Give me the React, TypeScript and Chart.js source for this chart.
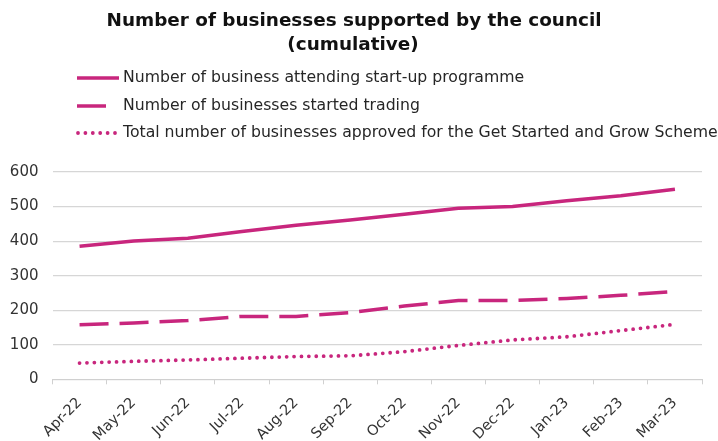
import React, { useEffect, useRef } from 'react';
import { Chart, registerables } from 'chart.js';

Chart.register(...registerables);

const categories = ['Apr-22', 'May-22', 'Jun-22', 'Jul-22', 'Aug-22', 'Sep-22', 'Oct-22', 'Nov-22', 'Dec-22', 'Jan-23', 'Feb-23', 'Mar-23'];
const attendingStartUp = [385, 400, 408, 428, 446, 461, 478, 495, 500, 517, 531, 550];
const startedTrading = [158, 163, 170, 182, 182, 193, 212, 228, 228, 234, 243, 254];
const approvedGrowScheme = [47, 52, 56, 61, 66, 68, 80, 98, 114, 123, 141, 159];
const yTicks = [0, 100, 200, 300, 400, 500, 600];

const titleLines = ['Number of businesses supported by the council', '(cumulative)'];
const seriesLabels = [
  'Number of business attending start-up programme',
  'Number of businesses started trading',
  'Total number of businesses approved for the Get Started and Grow Scheme',
];

const MAGENTA = '#C8267D';
const FONT = '"DejaVu Sans", Verdana, sans-serif';

const headerPlugin = {
  id: 'header',
  afterDraw(chart: any) {
    const ctx = chart.ctx as CanvasRenderingContext2D;
    ctx.save();
    ctx.fillStyle = '#111111';
    ctx.font = `bold 18.4px ${FONT}`;
    ctx.textAlign = 'center';
    ctx.textBaseline = 'middle';
    ctx.fillText(titleLines[0], 354, 21);
    ctx.fillText(titleLines[1], 353, 45);

    const rows = [78, 106, 133];
    chart.data.datasets.forEach((ds: any, i: number) => {
      const y = rows[i];
      ctx.save();
      ctx.strokeStyle = ds.borderColor;
      ctx.lineWidth = ds.borderWidth;
      ctx.lineCap = ds.borderCapStyle || 'butt';
      ctx.setLineDash(ds.borderDash || []);
      ctx.beginPath();
      ctx.moveTo(i === 2 ? 78 : 77, y);
      ctx.lineTo(i === 1 ? 116 : 119, y);
      ctx.stroke();
      ctx.restore();
      ctx.fillStyle = '#262626';
      ctx.font = `15.7px ${FONT}`;
      ctx.textAlign = 'left';
      ctx.textBaseline = 'middle';
      ctx.fillText(ds.label, 123, y);
    });
    ctx.restore();
  },
};

export default function App() {
  const canvasRef = useRef<HTMLCanvasElement | null>(null);

  useEffect(() => {
    document.body.style.margin = '0';
    const canvas = canvasRef.current;
    if (!canvas) return;
    const chart = new Chart(canvas, {
      type: 'line',
      data: {
        labels: categories,
        datasets: [
          {
            label: seriesLabels[0],
            data: attendingStartUp,
            borderColor: MAGENTA,
            backgroundColor: MAGENTA,
            borderWidth: 3.5,
            pointRadius: 0,
            tension: 0,
          },
          {
            label: seriesLabels[1],
            data: startedTrading,
            borderColor: MAGENTA,
            backgroundColor: MAGENTA,
            borderWidth: 3.5,
            borderDash: [29, 11],
            pointRadius: 0,
            tension: 0,
          },
          {
            label: seriesLabels[2],
            data: approvedGrowScheme,
            borderColor: MAGENTA,
            backgroundColor: MAGENTA,
            borderWidth: 3.8,
            borderDash: [0, 7.4],
            borderCapStyle: 'round',
            pointRadius: 0,
            tension: 0,
          },
        ],
      },
      options: {
        animation: false,
        responsive: false,
        devicePixelRatio: 1,
        layout: { padding: { top: 172, left: 0, right: 16, bottom: 0 } },
        plugins: {
          legend: { display: false },
          title: { display: false },
          tooltip: { enabled: false },
        },
        scales: {
          x: {
            type: 'category',
            offset: true,
            afterFit: (scale: any) => {
              scale.paddingLeft = 0;
              scale.paddingRight = 0;
              scale.height = 61.7;
            },
            grid: {
              offset: true,
              drawOnChartArea: false,
              drawTicks: true,
              tickLength: 5,
              color: '#d0d0d0',
            },
            border: { color: '#d0d0d0', width: 1 },
            ticks: {
              color: '#333333',
              font: { family: FONT, size: 14.5 },
              maxRotation: 45,
              minRotation: 45,
              autoSkip: false,
              padding: 10,
            },
          },
          y: {
            min: 0,
            max: 600,
            afterBuildTicks: (scale: any) => {
              scale.ticks = yTicks.map((v) => ({ value: v }));
            },
            afterFit: (scale: any) => {
              scale.width = 52.5;
            },
            grid: { color: '#d6d6d6', lineWidth: 1.2, drawTicks: false },
            border: { display: false },
            ticks: {
              color: '#333333',
              font: { family: FONT, size: 15 },
              padding: 14,
            },
          },
        },
      },
      plugins: [headerPlugin],
    });
    return () => chart.destroy();
  }, []);

  return <canvas ref={canvasRef} width={718} height={441} style={{ display: 'block', width: 718, height: 441 }} />;
}
